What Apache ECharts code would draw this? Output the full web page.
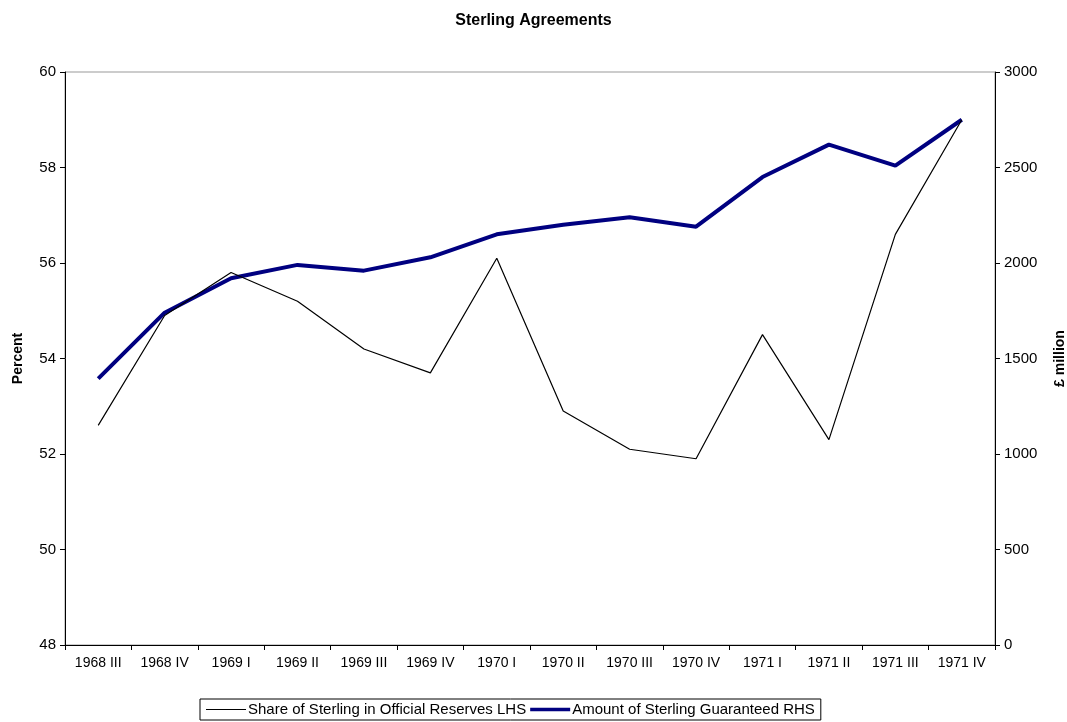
<!DOCTYPE html>
<html>
<head>
<meta charset="utf-8">
<script src="https://cdn.jsdelivr.net/npm/echarts@6/dist/echarts.min.js"></script>
<style>
  html, body { margin: 0; padding: 0; background: #fff; }
  #chart { width: 1067px; height: 722px; }
</style>
</head>
<body>
<div id="chart"></div>
<script>
const quarters = ['1968 III', '1968 IV', '1969 I', '1969 II', '1969 III', '1969 IV',
    '1970 I', '1970 II', '1970 III', '1970 IV', '1971 I', '1971 II', '1971 III', '1971 IV'];

// percent, left axis
const shareOfSterling = [52.6, 54.9, 55.8, 55.2, 54.2, 53.7, 56.1, 52.9, 52.1, 51.9, 54.5, 52.3, 56.6, 59.0];

// £ million, right axis
const amountGuaranteed = [1395, 1740, 1920, 1990, 1960, 2030, 2150, 2200, 2240, 2190, 2450, 2620, 2510, 2750];

const font = 'Liberation Sans, Arial, sans-serif';

// legend icons: thin / thick line, the two tiny end points keep the box 40x10
const thinIcon = 'path://M0,0L0.01,0ZM0,4.5H40V5.5H0ZM40,10L39.99,10Z';
const thickIcon = 'path://M0,0L0.01,0ZM0,3.3H40V6.7H0ZM40,10L39.99,10Z';

const chart = echarts.init(document.getElementById('chart'));

const option = {
    backgroundColor: '#fff',
    animation: false,
    textStyle: { fontFamily: font, color: '#000' },
    title: {
        text: 'Sterling Agreements',
        left: 'center',
        top: 8,
        textStyle: { fontFamily: font, fontSize: 16, fontWeight: 'bold', color: '#000' }
    },
    grid: {
        left: 65,
        right: 72,
        top: 72,
        bottom: 77,
        outerBoundsMode: 'none',
        containLabel: false,
        show: true,
        borderColor: '#999',
        borderWidth: 1
    },
    legend: {
        bottom: 2,
        left: 200,
        itemWidth: 40,
        itemHeight: 10,
        itemGap: 4,
        padding: [3, 6, 3, 6],
        borderColor: '#000',
        borderWidth: 1,
        borderRadius: 0,
        textStyle: { fontFamily: font, fontSize: 15, color: '#000', padding: [0, 0, 0, -3] },
        data: [
            { name: 'Share of Sterling in Official Reserves LHS', icon: thinIcon, itemStyle: { color: '#000' } },
            { name: 'Amount of Sterling Guaranteed RHS', icon: thickIcon, itemStyle: { color: '#000080' } }
        ]
    },
    xAxis: {
        type: 'category',
        data: quarters,
        boundaryGap: true,
        axisLine: { lineStyle: { color: '#000', width: 1 } },
        axisTick: { show: true, length: 5, inside: false, alignWithLabel: false, lineStyle: { color: '#000' } },
        axisLabel: { color: '#000', fontSize: 14, margin: 11, interval: 0, fontFamily: font },
        splitLine: { show: false }
    },
    yAxis: [
        {
            type: 'value',
            min: 48,
            max: 60,
            interval: 2,
            name: 'Percent',
            nameLocation: 'middle',
            nameRotate: 90,
            nameGap: 40,
            nameTextStyle: { fontFamily: font, fontSize: 14, fontWeight: 'bold', color: '#000' },
            axisLine: { show: true, lineStyle: { color: '#000', width: 1 } },
            axisTick: { show: true, length: 5, lineStyle: { color: '#000' } },
            axisLabel: { color: '#000', fontSize: 15, margin: 9, fontFamily: font },
            splitLine: { show: false }
        },
        {
            type: 'value',
            min: 0,
            max: 3000,
            interval: 500,
            name: '£ million',
            nameLocation: 'middle',
            nameRotate: 90,
            nameGap: 58,
            nameTextStyle: { fontFamily: font, fontSize: 14, fontWeight: 'bold', color: '#000' },
            axisLine: { show: true, lineStyle: { color: '#000', width: 1 } },
            axisTick: { show: true, length: 5, lineStyle: { color: '#000' } },
            axisLabel: { color: '#000', fontSize: 15, margin: 9, fontFamily: font, formatter: v => String(v) },
            splitLine: { show: false }
        }
    ],
    series: [
        {
            name: 'Share of Sterling in Official Reserves LHS',
            type: 'line',
            yAxisIndex: 0,
            data: shareOfSterling,
            symbol: 'none',
            lineStyle: { color: '#000', width: 1.2 },
            itemStyle: { color: '#000' },
            z: 3
        },
        {
            name: 'Amount of Sterling Guaranteed RHS',
            type: 'line',
            yAxisIndex: 1,
            data: amountGuaranteed,
            symbol: 'none',
            lineStyle: { color: '#000080', width: 4 },
            itemStyle: { color: '#000080' },
            z: 2
        }
    ]
};

chart.setOption(option);
</script>
</body>
</html>
